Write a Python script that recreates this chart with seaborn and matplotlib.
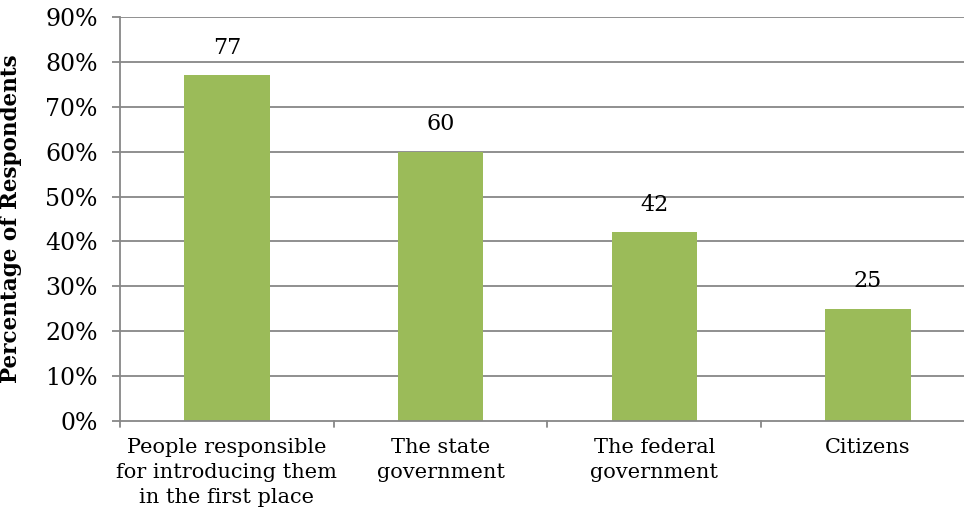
import matplotlib
matplotlib.use("Agg")
import matplotlib.pyplot as plt
import seaborn as sns
import pandas as pd
from matplotlib.ticker import FuncFormatter

categories = ["People responsible\nfor introducing them\nin the first place",
              "The state\ngovernment",
              "The federal\ngovernment",
              "Citizens"]
values = [77, 60, 42, 25]
y_ticks = [0, 10, 20, 30, 40, 50, 60, 70, 80, 90]

sns.set_theme(style="white")
plt.rcParams['font.family'] = ['DejaVu Serif']
plt.rcParams['text.color'] = 'black'
plt.rcParams['xtick.color'] = 'black'
plt.rcParams['ytick.color'] = 'black'
plt.rcParams['axes.labelcolor'] = 'black'

df = pd.DataFrame({"cat": categories, "val": values})

fig = plt.figure(figsize=(9.64, 5.21), dpi=100)
ax = fig.add_axes([120/964, 1-421/521, (964-120)/964, (421-17)/521])

sns.barplot(data=df, x="cat", y="val", color="#9BBB59", width=0.40,
            saturation=1, linewidth=0, ax=ax, zorder=3)

grid_c = "#878787"
ax.set_ylim(0, 90)
ax.set_xlim(-0.5, -0.5 + (964-120)/213.7)
ax.set_yticks(y_ticks)
ax.yaxis.set_major_formatter(FuncFormatter(lambda v, p: f"{int(v)}%"))
for y in y_ticks[1:]:
    ax.axhline(y, color=grid_c, lw=1.3, zorder=1)

ax.set_xticks([0, 1, 2, 3])
ax.set_xticklabels(categories, fontsize=15, linespacing=1.4, color="black")
ax.tick_params(axis='x', length=0, pad=12)
for b in [-0.5, 0.5, 1.5, 2.5]:
    ax.plot([b, b], [0, -1.4], color=grid_c, lw=1.3, clip_on=False, zorder=4)

ax.tick_params(axis='y', length=6, width=1.3, color=grid_c, labelcolor="black",
               labelsize=17, pad=10, left=True)

for s in ["top", "right"]:
    ax.spines[s].set_visible(False)
for s in ["left", "bottom"]:
    ax.spines[s].set_color(grid_c)
    ax.spines[s].set_linewidth(1.3)
    ax.spines[s].set_zorder(5)

for i, v in enumerate(values):
    ax.annotate(str(v), (i, v), xytext=(0, 12), textcoords="offset points",
                ha="center", va="bottom", fontsize=16, color="black")

ax.set_xlabel("")
ax.set_ylabel("Percentage of Respondents", fontsize=15.5, fontweight="bold", color="black")
ax.yaxis.set_label_coords(-0.116, 0.5)

fig.savefig("out.png", dpi=100)
